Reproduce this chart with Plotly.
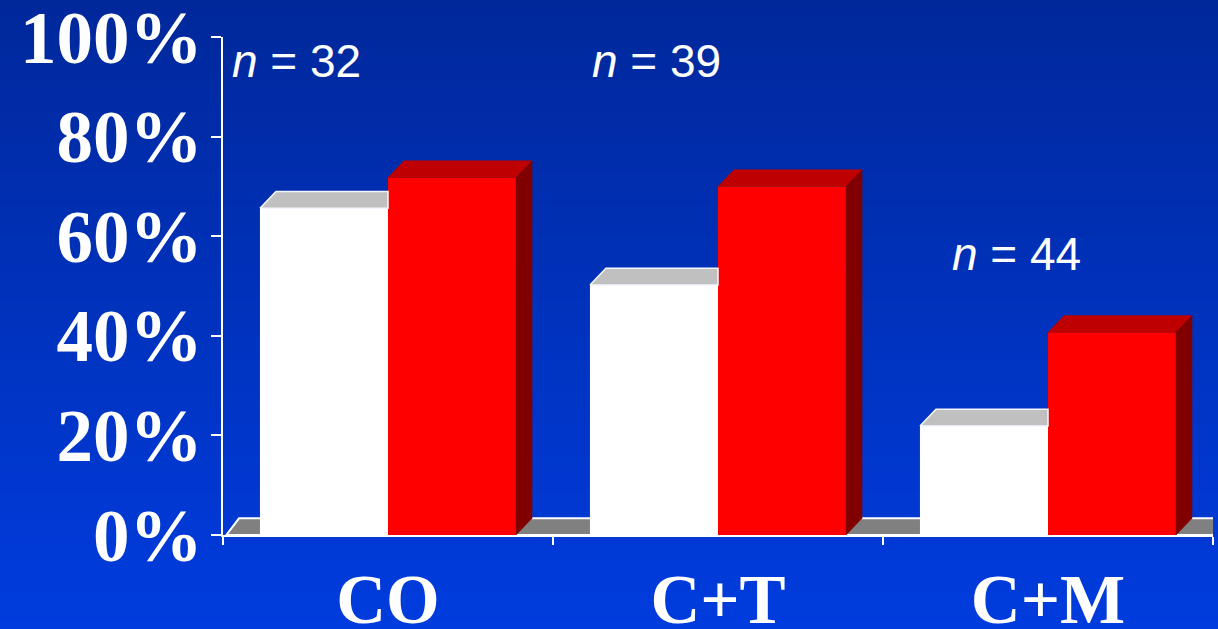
import plotly.graph_objects as go

# Survey shares per group (front value of each bar, in %)
categories = ["CO", "C+T", "C+M"]
white_values = [65.6, 50.2, 21.9]
red_values = [71.8, 70.0, 40.7]
group_sizes = ["32", "39", "44"]
y_ticks = [0, 20, 40, 60, 80, 100]
y_tick_labels = ["0%", "20%", "40%", "60%", "80%", "100%"]

W, H = 1218, 629
ML, MR, MT, MB = 223, 5, 37, 94
PW, PH = W - ML - MR, H - MT - MB

BAR_W = 0.388          # width of each bar front (x units)
DX = 16 / PW * 3.0     # depth offset of the 3D look, x units
DY = 16.7 / PH * 100   # depth offset of the 3D look, y units (%)

WHITE, WHITE_TOP = "#FFFFFF", "#C0C0C0"
RED, RED_TOP, RED_SIDE = "#FF0000", "#BF0000", "#800000"
FLOOR = "#808080"

xs = list(range(len(categories)))
fig = go.Figure()

# front faces
fig.add_trace(go.Bar(x=xs, y=white_values, offset=-BAR_W, width=BAR_W,
                     marker=dict(color=WHITE, line=dict(width=0)), showlegend=False,
                     hoverinfo="skip"))
fig.add_trace(go.Bar(x=xs, y=red_values, offset=0, width=BAR_W,
                     marker=dict(color=RED, line=dict(width=0)), showlegend=False,
                     hoverinfo="skip"))


def poly(px, py, fill, line_color=None, line_w=0):
    fig.add_trace(go.Scatter(
        x=px + [px[0]], y=py + [py[0]], mode="lines", fill="toself",
        fillcolor=fill, line=dict(color=line_color or fill, width=line_w if line_w else 0.5),
        showlegend=False, hoverinfo="skip"))


# top faces of the white bars (rear part hidden behind the red bars)
for i, v in zip(xs, white_values):
    x0, x1 = i - BAR_W, i
    poly([x0, x0 + DX, x1, x1], [v, v + DY, v + DY, v], WHITE_TOP, "#F4F6FF", 1.5)

# top and side faces of the red bars
for i, v in zip(xs, red_values):
    x0, x1 = i, i + BAR_W
    poly([x0, x0 + DX, x1 + DX, x1], [v, v + DY, v + DY, v], RED_TOP)
    poly([x1, x1 + DX, x1 + DX, x1], [0, DY, v + DY, v], RED_SIDE)

shapes = []
# background gradient as thin stripes
top_rgb = (0, 40, 155)
bot_rgb = (0, 60, 222)
N = 160
for k in range(N):
    t = k / (N - 1)
    c = tuple(round(top_rgb[j] + (bot_rgb[j] - top_rgb[j]) * t) for j in range(3))
    y_top_px = H * k / N
    y_bot_px = H * (k + 1) / N + 1
    shapes.append(dict(
        type="rect", xref="paper", yref="paper", layer="below",
        x0=-ML / PW, x1=(W - ML) / PW,
        y0=(H - MB - y_bot_px) / PH, y1=(H - MB - y_top_px) / PH,
        fillcolor="rgb(%d,%d,%d)" % c, line=dict(width=0)))

# floor slab
shapes.append(dict(
    type="path", xref="x", yref="y", layer="below",
    path="M -0.49,0 L %f,%f L %f,%f L 2.5,0 Z" % (-0.5 + DX, DY, 2.5 + DX, DY),
    fillcolor=FLOOR, line=dict(color="white", width=2)))

annotations = []
label_pos = [(230, 61), (590, 61), (950, 254)]
for (px, py), n in zip(label_pos, group_sizes):
    annotations.append(dict(
        xref="paper", yref="paper", x=(px - ML) / PW, y=(H - MB - py) / PH,
        xanchor="left", yanchor="middle", showarrow=False,
        text="<i>n</i> = " + n,
        font=dict(family="Liberation Sans, Arial", size=46, color="white")))

fig.update_layout(
    width=W, height=H,
    margin=dict(l=ML, r=MR, t=MT, b=MB, autoexpand=False),
    paper_bgcolor="rgb(0,50,190)", plot_bgcolor="rgba(0,0,0,0)",
    barmode="overlay", showlegend=False,
    shapes=shapes, annotations=annotations,
    xaxis=dict(
        range=[-0.5, 2.5], tickvals=xs, ticktext=categories, ticks="",
        showgrid=False, zeroline=False, showline=True, linecolor="white", linewidth=2,
        automargin=False, ticklabeloverflow="allow",
        tickfont=dict(family="Liberation Serif, Times New Roman", size=69, color="white",
                      weight="bold"),
        ticklabelstandoff=3,
        minor=dict(tickvals=[-0.5, 0.5, 1.5, 2.5], ticks="outside", ticklen=8,
                   tickwidth=2, tickcolor="white", showgrid=False),
    ),
    yaxis=dict(
        range=[0, 100], tickvals=y_ticks, ticktext=y_tick_labels, ticks="",
        showgrid=False, zeroline=False, showline=True, linecolor="white", linewidth=2,
        automargin=False, ticklabeloverflow="allow",
        tickfont=dict(family="Liberation Serif, Times New Roman", size=73, color="white",
                      weight="bold"),
        ticklabelstandoff=4,
        minor=dict(tickvals=y_ticks, ticks="outside", ticklen=10,
                   tickwidth=2, tickcolor="white", showgrid=False),
    ),
)

fig.write_html("out.html")
